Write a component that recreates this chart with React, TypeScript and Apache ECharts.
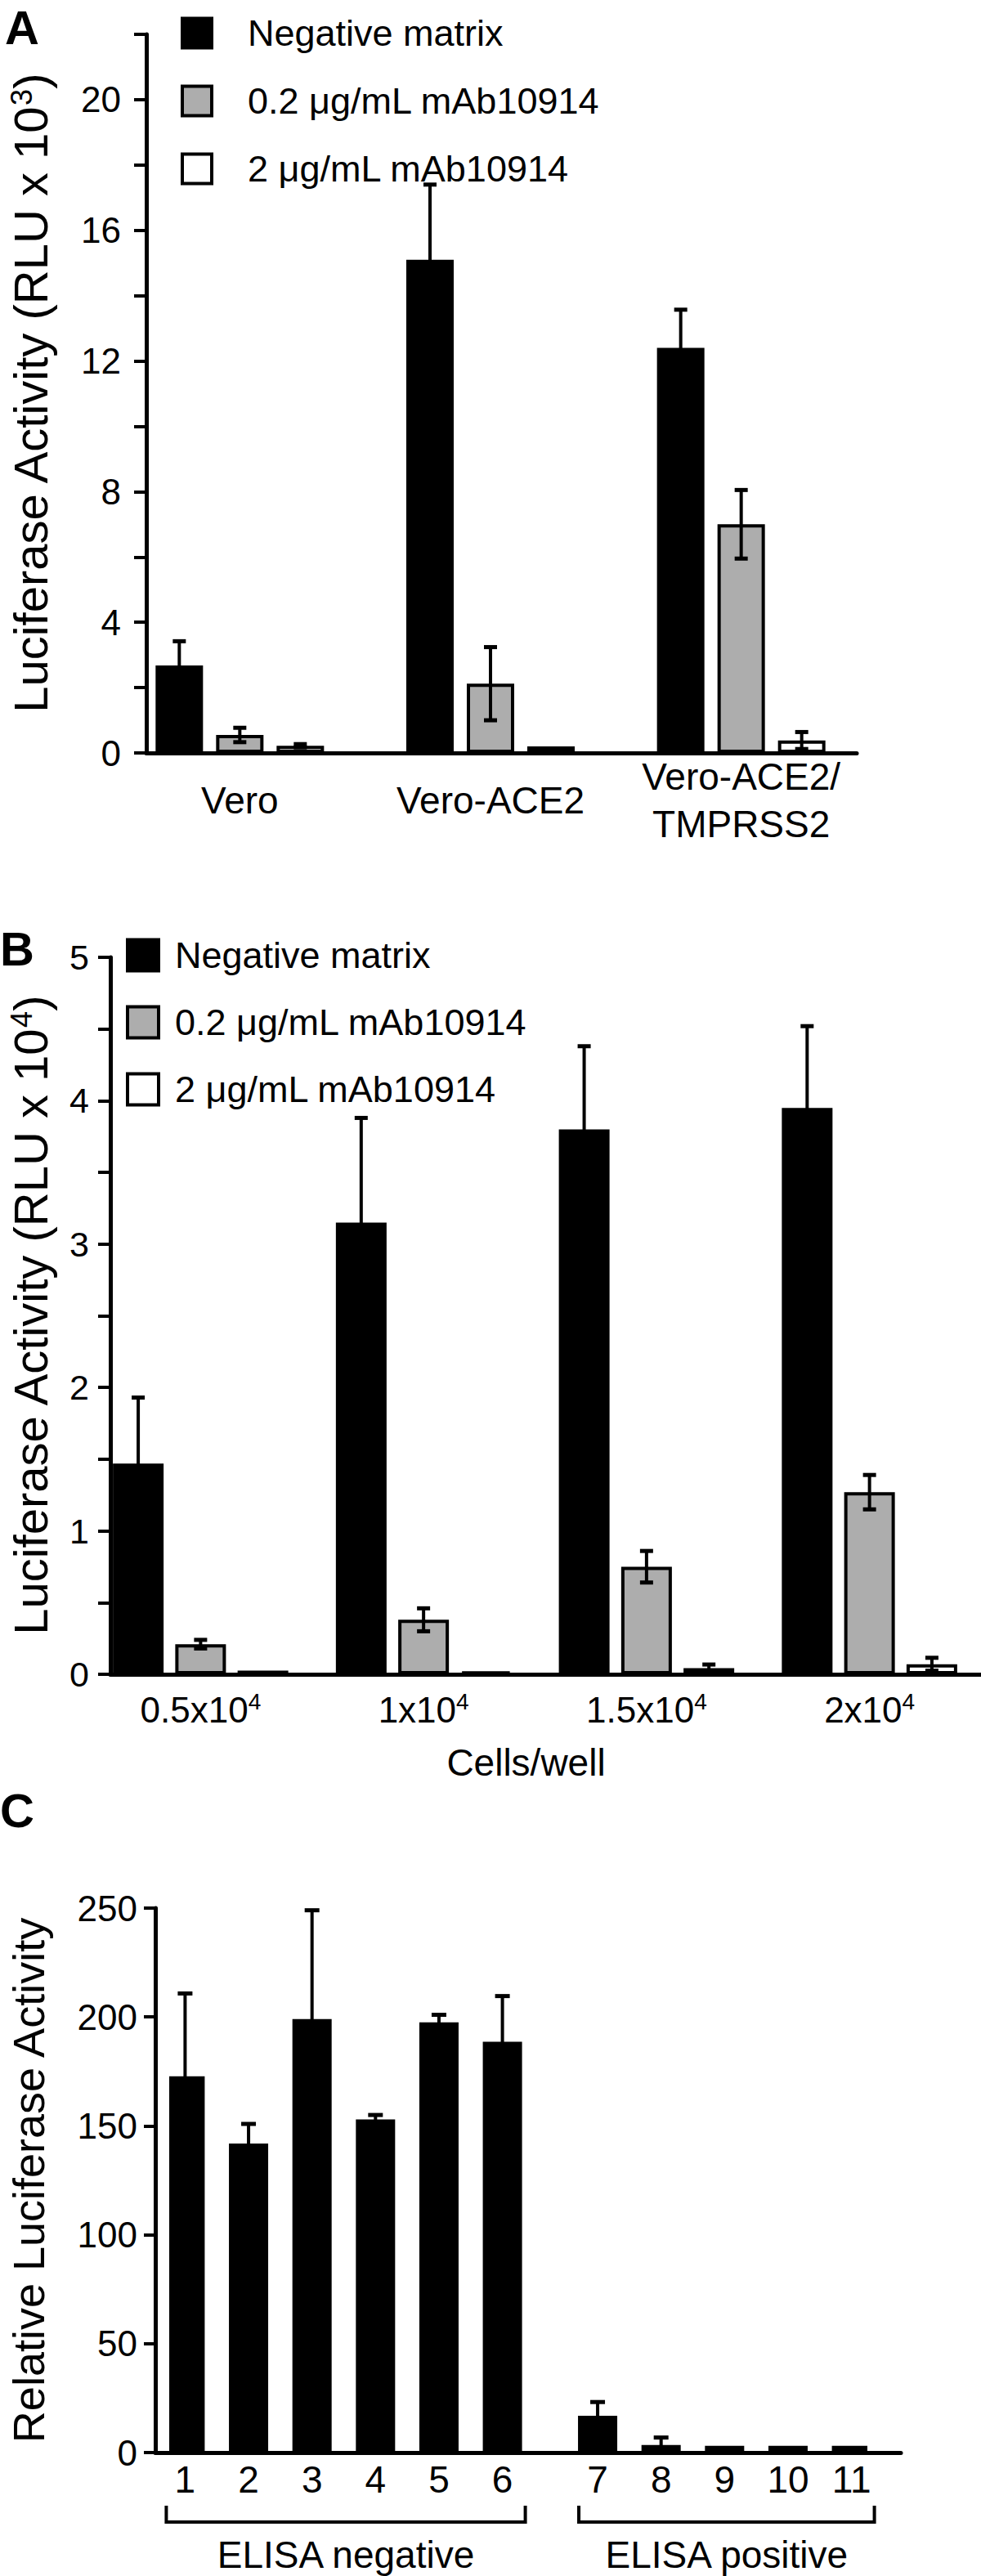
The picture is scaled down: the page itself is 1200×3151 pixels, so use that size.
import React, { useEffect, useRef } from 'react';
import * as echarts from 'echarts';

const FONT = '"Liberation Sans", Arial, Helvetica, sans-serif';

// Shared series (panels A and B)
const seriesNames = ['Negative matrix', '0.2 μg/mL mAb10914', '2 μg/mL mAb10914'];
const seriesFill = ['#000000', '#adadad', '#ffffff'];

// Panel A (RLU x 10^3)
const aCategories = ['Vero', 'Vero-ACE2', 'Vero-ACE2/\nTMPRSS2'];
const aNeg = [2.68, 15.1, 12.4];
const aNegErr = [0.74, 2.3, 1.17];
const aLow = [0.55, 2.12, 7.0];
const aLowErr = [0.22, 1.12, 1.05];
const aHigh = [0.22, 0.2, 0.38];
const aHighErr = [0.05, 0, 0.26];
const aAxisMax = 22;
const aTickStep = 2;
const aLabelStep = 4;

// Panel B (RLU x 10^4)
const bCategories = ['0.5', '1', '1.5', '2'];
const bExponent = '4';
const bNeg = [1.47, 3.15, 3.8, 3.95];
const bNegErr = [0.46, 0.73, 0.58, 0.57];
const bLow = [0.21, 0.38, 0.75, 1.27];
const bLowErr = [0.03, 0.08, 0.11, 0.12];
const bHigh = [0.025, 0.02, 0.043, 0.07];
const bHighErr = [0, 0, 0.025, 0.045];
const bAxisMax = 5;
const bTickStep = 0.5;

// Panel C
const cLabels = ['1', '2', '3', '4', '5', '6', '7', '8', '9', '10', '11'];
const cPositions = [0, 1, 2, 3, 4, 5, 6.5, 7.5, 8.5, 9.5, 10.5];
const cValues = [172.8, 141.9, 199, 153, 197.5, 188.6, 16.9, 3.5, 3.1, 3.1, 3.1];
const cErr = [38, 9, 50, 2, 3.5, 21, 6.3, 3.4, 0, 0, 0];
const cGroupNames = ['ELISA negative', 'ELISA positive'];
const cGroupFirst = [0, 6];
const cGroupLast = [5, 10];
const cAxisMax = 250;
const cTickStep = 50;

function errorSeries(xi: number, yi: number, data: number[][], pitch: number, n: number, capW: number) {
  return {
    type: 'custom',
    xAxisIndex: xi,
    yAxisIndex: yi,
    z: 5,
    silent: true,
    renderItem: (_p: any, api: any) => {
      const cat = api.value(0);
      const v = api.value(1);
      const e = api.value(2);
      const k = api.value(3);
      if (!(e > 0)) return null;
      const off = (k - (n - 1) / 2) * pitch;
      const top = api.coord([cat, v + e]);
      const bot = api.coord([cat, Math.max(0, v - e)]);
      const x = top[0] + off;
      const hw = capW / 2;
      return {
        type: 'group',
        children: [
          { type: 'line', shape: { x1: x, y1: bot[1], x2: x, y2: top[1] }, style: { stroke: '#000', lineWidth: 4 } },
          { type: 'line', shape: { x1: x - hw, y1: top[1], x2: x + hw, y2: top[1] }, style: { stroke: '#000', lineWidth: 5 } },
          { type: 'line', shape: { x1: x - hw, y1: bot[1], x2: x + hw, y2: bot[1] }, style: { stroke: '#000', lineWidth: 5 } },
        ],
      };
    },
    data,
  };
}

function barSeries(sets: number[][], xi: number, yi: number, barWidth: number, gap: string) {
  return sets.map((d, k) => ({
    type: 'bar',
    name: seriesNames[k],
    xAxisIndex: xi,
    yAxisIndex: yi,
    data: d,
    barWidth,
    barGap: gap,
    silent: true,
    itemStyle: { color: seriesFill[k], borderColor: '#000', borderWidth: 4 },
  }));
}

function errData(sets: number[][], errs: number[][]) {
  const out: number[][] = [];
  sets.forEach((vals, k) => vals.forEach((v, i) => out.push([i, v, errs[k][i], k])));
  return out;
}

const lineStyle = { color: '#000', width: 5 };

function frameX(grid: number) {
  return {
    gridIndex: grid,
    type: 'value',
    min: 0,
    max: 1,
    axisLine: { show: true, onZero: false, lineStyle },
    axisTick: { show: false },
    axisLabel: { show: false },
    splitLine: { show: false },
  };
}

function frameY(grid: number, max: number, step: number, fmt: (v: number) => string, tickLen: number, margin: number, fontSize: number, name: string, nameGap: number, nameSize: number, rich: any) {
  return {
    gridIndex: grid,
    type: 'value',
    min: 0,
    max,
    interval: step,
    axisLine: { show: true, onZero: false, lineStyle },
    axisTick: { show: true, length: tickLen, lineStyle: { color: '#000', width: 4 } },
    axisLabel: { formatter: fmt, margin, fontSize, fontFamily: FONT, color: '#000' },
    splitLine: { show: false },
    name,
    nameLocation: 'middle',
    nameGap,
    nameTextStyle: { fontSize: nameSize, fontFamily: FONT, color: '#000', rich },
  };
}

function hiddenY(grid: number, max: number) {
  return { gridIndex: grid, type: 'value', min: 0, max, show: false };
}

export default function App() {
  const ref = useRef<HTMLDivElement>(null);

  useEffect(() => {
    if (!ref.current) return;
    const chart = echarts.init(ref.current, null, { renderer: 'svg' });

    const slots: string[] = [];
    for (let i = 0; i <= cPositions[cPositions.length - 1] * 2; i++) slots.push('_' + i);
    const cData: (number | null)[] = slots.map(() => null);
    cPositions.forEach((p, j) => {
      slots[p * 2] = cLabels[j];
      cData[p * 2] = cValues[j];
    });
    const cErrData = cPositions.map((p, j) => [p * 2, cValues[j], cErr[j], 0]);
    const cBrackets = cGroupNames.map((_n, g) => [cPositions[cGroupFirst[g]] * 2, cPositions[cGroupLast[g]] * 2, g]);

    const supRich = { sup: { fontSize: 36, verticalAlign: 'top', lineHeight: 38, fontFamily: FONT, color: '#000' } };

    const option: any = {
      animation: false,
      backgroundColor: '#ffffff',
      textStyle: { fontFamily: FONT, color: '#000' },
      grid: [
        { left: 176, top: 42, width: 872, height: 879 },
        { left: 140, top: 42, width: 920, height: 879 },
        { left: 130, top: 1171, width: 1070, height: 877 },
        { left: 109, top: 1171, width: 1091, height: 877 },
        { left: 182, top: 2334, width: 920, height: 666 },
        { left: 207, top: 2334, width: 854, height: 666 },
      ],
      legend: [
        {
          left: 221, top: 18, padding: 0, orient: 'vertical', icon: 'rect',
          itemWidth: 36, itemHeight: 36, itemGap: 38, selectedMode: false,
          data: seriesNames,
          itemStyle: { borderColor: '#000', borderWidth: 4 },
          textStyle: { fontSize: 45, fontFamily: FONT, color: '#000', padding: [0, 0, 0, 39], lineHeight: 36 },
        },
        {
          left: 154, top: 1146, padding: 0, orient: 'vertical', icon: 'rect',
          itemWidth: 38, itemHeight: 38, itemGap: 37, selectedMode: false,
          data: seriesNames,
          itemStyle: { borderColor: '#000', borderWidth: 4 },
          textStyle: { fontSize: 45, fontFamily: FONT, color: '#000', padding: [0, 0, 0, 15], lineHeight: 38 },
        },
      ],
      xAxis: [
        frameX(0),
        {
          gridIndex: 1, type: 'category', data: aCategories,
          axisLine: { show: false }, axisTick: { show: false }, splitLine: { show: false },
          axisLabel: { interval: 0, margin: 58, fontSize: 46, lineHeight: 58, verticalAlign: 'middle', fontFamily: FONT, color: '#000' },
        },
        frameX(2),
        {
          gridIndex: 3, type: 'category', data: bCategories,
          axisLine: { show: false }, axisTick: { show: false }, splitLine: { show: false },
          axisLabel: {
            interval: 0, margin: 43, verticalAlign: 'middle',
            formatter: (v: string) => `{m|${v}x10}{s|${bExponent}}`,
            rich: {
              m: { fontSize: 44, lineHeight: 48, fontFamily: FONT, color: '#000' },
              s: { fontSize: 28, lineHeight: 30, verticalAlign: 'top', fontFamily: FONT, color: '#000' },
            },
          },
          name: 'Cells/well', nameLocation: 'middle', nameGap: 85,
          nameTextStyle: { fontSize: 46, fontFamily: FONT, color: '#000', padding: [0, 22, 0, 0] },
        },
        frameX(4),
        {
          gridIndex: 5, type: 'category', data: slots,
          axisLine: { show: false }, axisTick: { show: false }, splitLine: { show: false },
          axisLabel: {
            interval: 0, margin: 33, verticalAlign: 'middle', fontSize: 46, fontFamily: FONT, color: '#000',
            formatter: (v: string) => (v.charAt(0) === '_' ? '' : v),
          },
        },
      ],
      yAxis: [
        frameY(0, aAxisMax, aTickStep, (v: number) => (v % aLabelStep === 0 ? String(v) : ''), 15, 31, 44,
          'Luciferase Activity (RLU x 10{sup|3})', 113, 58, supRich),
        hiddenY(1, aAxisMax),
        frameY(2, bAxisMax, bTickStep, (v: number) => (Number.isInteger(v) ? String(v) : ''), 15, 26, 43,
          'Luciferase Activity (RLU x 10{sup|4})', 69, 58, supRich),
        hiddenY(3, bAxisMax),
        frameY(4, cAxisMax, cTickStep, (v: number) => String(v), 14, 22, 44,
          'Relative Luciferase Activity', 128, 54, {}),
        hiddenY(5, cAxisMax),
      ],
      series: [
        ...barSeries([aNeg, aLow, aHigh], 1, 1, 58, '27.6%'),
        errorSeries(1, 1, errData([aNeg, aLow, aHigh], [aNegErr, aLowErr, aHighErr]), 74, 3, 16),
        ...barSeries([bNeg, bLow, bHigh], 3, 3, 62, '23%'),
        errorSeries(3, 3, errData([bNeg, bLow, bHigh], [bNegErr, bLowErr, bHighErr]), 76.3, 3, 16),
        {
          type: 'bar', name: 'Samples', xAxisIndex: 5, yAxisIndex: 5, data: cData, barWidth: 48, silent: true,
          itemStyle: { color: '#000' },
        },
        errorSeries(5, 5, cErrData, 0, 1, 18),
        {
          type: 'custom', xAxisIndex: 5, yAxisIndex: 5, silent: true, z: 5,
          data: cBrackets,
          renderItem: (_p: any, api: any) => {
            const a = api.coord([api.value(0), 0]);
            const b = api.coord([api.value(1), 0]);
            const g = api.value(2);
            const x1 = a[0] - 23;
            const x2 = b[0] + 28;
            const y0 = a[1];
            return {
              type: 'group',
              children: [
                {
                  type: 'polyline',
                  shape: { points: [[x1, y0 + 65], [x1, y0 + 85], [x2, y0 + 85], [x2, y0 + 65]] },
                  style: { stroke: '#000', lineWidth: 4, fill: 'none' },
                },
                {
                  type: 'text',
                  x: (x1 + x2) / 2,
                  y: y0 + 125,
                  style: { text: cGroupNames[g], fontSize: 46, fontFamily: FONT, fill: '#000', align: 'center', verticalAlign: 'middle' },
                },
              ],
            };
          },
        },
      ],
      graphic: [
        { type: 'text', x: 6, y: 4, style: { text: 'A', fontSize: 58, fontWeight: 'bold', fontFamily: FONT, fill: '#000', verticalAlign: 'top' } },
        { type: 'text', x: 0, y: 1131, style: { text: 'B', fontSize: 58, fontWeight: 'bold', fontFamily: FONT, fill: '#000', verticalAlign: 'top' } },
        { type: 'text', x: 0, y: 2185, style: { text: 'C', fontSize: 58, fontWeight: 'bold', fontFamily: FONT, fill: '#000', verticalAlign: 'top' } },
      ],
    };

    chart.setOption(option);
    return () => chart.dispose();
  }, []);

  return <div ref={ref} style={{ position: 'absolute', left: 0, top: 0, width: 1200, height: 3151, background: '#fff' }} />;
}
